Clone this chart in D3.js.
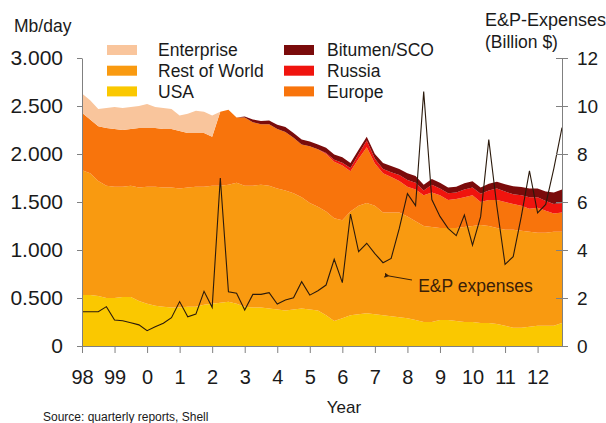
<!DOCTYPE html>
<html>
<head>
<meta charset="utf-8">
<script src="https://cdn.jsdelivr.net/npm/d3@7"></script>
<style>
  body { margin: 0; background: #fff; }
  svg { display: block; font-family: "Liberation Sans", Arial, sans-serif; }
</style>
</head>
<body>
<div id="chart"></div>
<script>
// quarterly values, 1998 Q1 .. 2012 Q4 (Mb/day)
const usa = [0.53,0.53,0.52,0.50, 0.50,0.51,0.51,0.47, 0.44,0.42,0.41,0.40, 0.40,0.41,0.41,0.43,
  0.44,0.45,0.46,0.44, 0.41,0.40,0.40,0.39, 0.38,0.37,0.38,0.39, 0.38,0.37,0.32,0.26,
  0.29,0.32,0.33,0.34, 0.33,0.32,0.31,0.30, 0.29,0.27,0.25,0.25, 0.27,0.27,0.26,0.25,
  0.25,0.24,0.24,0.23, 0.21,0.19,0.19,0.20, 0.21,0.21,0.21,0.24];
const restOfWorld = [1.30,1.27,1.20,1.17, 1.16,1.15,1.16,1.18, 1.22,1.24,1.24,1.25, 1.24,1.24,1.25,1.23,
  1.23,1.22,1.22,1.26, 1.26,1.27,1.28,1.28, 1.26,1.25,1.21,1.16, 1.11,1.08,1.08,1.07,
  1.02,1.08,1.13,1.15, 1.13,1.07,1.08,1.09, 1.06,1.03,1.00,0.99, 0.96,0.96,0.97,0.99,
  1.00,1.02,1.01,1.00, 1.00,1.02,1.01,0.99, 0.97,0.97,0.98,0.95];
const europe = [0.60,0.56,0.57,0.60, 0.60,0.59,0.59,0.62, 0.61,0.61,0.61,0.61, 0.60,0.57,0.56,0.56,
  0.51,0.77,0.78,0.68, 0.71,0.66,0.63,0.64, 0.62,0.61,0.58,0.55, 0.59,0.60,0.60,0.59,
  0.57,0.42,0.49,0.58, 0.44,0.41,0.37,0.33, 0.31,0.33,0.32,0.36, 0.34,0.29,0.30,0.31,
  0.32,0.24,0.27,0.29, 0.29,0.27,0.26,0.24, 0.26,0.23,0.19,0.20];
const russia = [0,0,0,0, 0,0,0,0, 0,0,0,0, 0,0,0,0,
  0,0,0,0, 0,0,0,0, 0,0,0,0, 0,0,0.01,0.02,
  0.03,0.035,0.05,0.07, 0.05,0.045,0.05,0.06, 0.07,0.07,0.05,0.08, 0.07,0.07,0.07,0.08,
  0.08,0.085,0.10,0.12, 0.11,0.10,0.11,0.12, 0.11,0.10,0.10,0.10];
const bitumen = [0,0,0,0, 0,0,0,0, 0,0,0,0, 0,0,0,0,
  0,0,0,0, 0.01,0.03,0.035,0.04, 0.045,0.05,0.05,0.05, 0.05,0.05,0.055,0.055,
  0.055,0.05,0.045,0.04, 0.05,0.06,0.065,0.065, 0.07,0.07,0.06,0.06, 0.06,0.06,0.06,0.065,
  0.065,0.065,0.07,0.07, 0.075,0.085,0.085,0.09, 0.09,0.10,0.12,0.14];
const enterprise = [0.20,0.20,0.18,0.21, 0.23,0.23,0.23,0.23, 0.25,0.22,0.22,0.21, 0.16,0.20,0.23,0.22,
  0.22,0,0,0, 0,0,0,0, 0,0,0,0, 0,0,0,0,
  0,0,0,0, 0,0,0,0, 0,0,0,0, 0,0,0,0,
  0,0,0,0, 0,0,0,0, 0,0,0,0];
// E&P expenses, billion $
const expenses = [1.43,1.43,1.43,1.64, 1.08,1.05,0.97,0.88, 0.64,0.80,0.95,1.18, 1.85,1.22,1.33,2.28,
  1.61,7.0,2.26,2.20, 1.50,2.15,2.15,2.22, 1.75,1.92,2.01,2.68, 2.12,2.30,2.54,3.61,
  2.64,5.50,3.93,4.28, 3.85,3.47,3.65,4.90, 6.35,5.85,10.6,6.10, 5.40,4.90,4.60,5.46,
  4.20,5.39,8.60,5.80, 3.40,3.72,5.40,7.30, 5.55,5.90,7.40,9.10];

const yearTicks = d3.range(1998, 2013);
const yearLabels = ['98','99','0','1','2','3','4','5','6','7','8','9','10','11','12'];
const leftTicks = [0, 0.5, 1, 1.5, 2, 2.5, 3];
const rightTicks = [0, 2, 4, 6, 8, 10, 12];

const series = [
  { key: 'usa', name: 'USA', values: usa, color: '#fac800' },
  { key: 'row', name: 'Rest of World', values: restOfWorld, color: '#f99a10' },
  { key: 'europe', name: 'Europe', values: europe, color: '#f8740c' },
  { key: 'russia', name: 'Russia', values: russia, color: '#f0140e' },
  { key: 'bitumen', name: 'Bitumen/SCO', values: bitumen, color: '#7a0b0b' },
  { key: 'enterprise', name: 'Enterprise', values: enterprise, color: '#f9c59c' }
];

const rows = usa.map((_, i) => {
  const r = { t: 1998 + i / 4, exp: expenses[i] };
  series.forEach(s => { r[s.key] = s.values[i]; });
  return r;
});

const W = 606, H = 423;
const svg = d3.select('#chart').append('svg').attr('width', W).attr('height', H);

const x = d3.scaleLinear().domain([1998, 2012.75]).range([82, 562]);
const y = d3.scaleLinear().domain([0, 3]).range([346, 58]);
const yR = d3.scaleLinear().domain([0, 12]).range([346, 58]);

const stack = d3.stack().keys(series.map(s => s.key));
const layers = stack(rows);

const area = d3.area()
  .x(d => x(d.data.t))
  .y0(d => y(d[0]))
  .y1(d => y(d[1]));

svg.append('g').selectAll('path')
  .data(layers)
  .enter().append('path')
  .attr('d', area)
  .attr('fill', (d, i) => series[i].color);

// E&P line
const line = d3.line().x(d => x(d.t)).y(d => yR(d.exp));
svg.append('path')
  .datum(rows)
  .attr('d', line)
  .attr('fill', 'none')
  .attr('stroke', '#2b1a0c')
  .attr('stroke-width', 1.1);

// axes
const axisColor = '#808080';
const gL = svg.append('g').attr('transform', `translate(${x(1998)},0)`)
  .call(d3.axisLeft(y).tickValues(leftTicks).tickSize(5).tickSizeOuter(0).tickPadding(14)
    .tickFormat(d => d === 0 ? '0' : d3.format('.3f')(d)));
gL.selectAll('text').style('font-size', '21px').style('fill', '#1a1a1a');
gL.selectAll('line, path').style('stroke', axisColor);

const gR = svg.append('g').attr('transform', `translate(${x(2012.75)},0)`)
  .call(d3.axisRight(yR).tickValues(rightTicks).tickSize(6).tickSizeOuter(0).tickPadding(9));
gR.selectAll('text').style('font-size', '19px').style('fill', '#1a1a1a');
gR.selectAll('line').attr('x1', -6);
gR.selectAll('line, path').style('stroke', axisColor);

const gB = svg.append('g').attr('transform', `translate(0,${y(0)})`)
  .call(d3.axisBottom(x).tickValues(yearTicks).tickSize(7).tickSizeOuter(0).tickPadding(17)
    .tickFormat((d, i) => yearLabels[i]));
gB.selectAll('text').style('font-size', '20px').style('fill', '#1a1a1a');
gB.selectAll('line, path').style('stroke', axisColor);

// titles
svg.append('text').attr('x', 14).attr('y', 32).style('font-size', '17.5px').style('fill', '#1a1a1a').text('Mb/day');
svg.append('text').attr('x', 485).attr('y', 26).style('font-size', '18px').style('fill', '#1a1a1a').text('E&P-Expenses');
svg.append('text').attr('x', 485).attr('y', 48).style('font-size', '17.5px').style('fill', '#1a1a1a').text('(Billion $)');
svg.append('text').attr('x', 344).attr('y', 413).attr('text-anchor', 'middle').style('font-size', '17px').style('fill', '#1a1a1a').text('Year');
svg.append('text').attr('x', 43).attr('y', 421).style('font-size', '12px').style('fill', '#1a1a1a').text('Source: quarterly reports, Shell');

// legend
const legendCols = [
  { sx: 107, tx: 158, keys: ['enterprise', 'row', 'usa'] },
  { sx: 284, tx: 327, keys: ['bitumen', 'russia', 'europe'] }
];
legendCols.forEach(col => {
  col.keys.forEach((k, i) => {
    const s = series.find(d => d.key === k);
    svg.append('rect').attr('x', col.sx).attr('y', 45 + i * 20.7).attr('width', 30).attr('height', 10).attr('fill', s.color);
    svg.append('text').attr('x', col.tx).attr('y', 55.5 + i * 21).style('font-size', '17.5px').style('fill', '#1a1a1a').text(s.name);
  });
});

// annotation
svg.append('defs').append('marker')
  .attr('id', 'ah').attr('viewBox', '0 0 10 10').attr('refX', 2).attr('refY', 5)
  .attr('markerWidth', 5).attr('markerHeight', 5).attr('orient', 'auto-start-reverse')
  .append('path').attr('d', 'M10,0 L0,5 L10,10 z').attr('fill', '#3a2008');
svg.append('line')
  .attr('x1', x(2008.14)).attr('y1', yR(2.75))
  .attr('x2', x(2007.42)).attr('y2', yR(2.92))
  .attr('stroke', '#3a2008').attr('stroke-width', 1)
  .attr('marker-end', 'url(#ah)');
svg.append('text').attr('x', x(2008.33)).attr('y', yR(2.25))
  .style('font-size', '17.5px').style('fill', '#3a2008').text('E&P expenses');
</script>
</body>
</html>
